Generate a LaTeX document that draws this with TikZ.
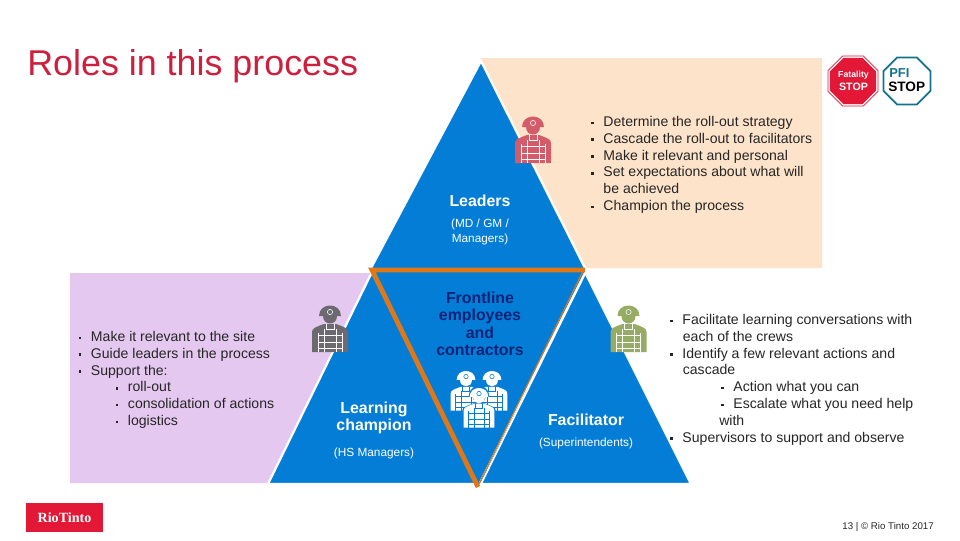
\documentclass[tikz,border=0pt]{standalone}
\usepackage{fontspec}
\setmainfont{Liberation Sans}
\usepackage{xcolor}
\usetikzlibrary{positioning,shapes.geometric,arrows.meta}
\definecolor{RoleBlue}{RGB}{4,125,214}
\definecolor{RoleOrange}{RGB}{224,120,24}
\definecolor{RoleNavy}{RGB}{10,35,120}
\definecolor{TintoRed}{RGB}{226,24,54}
\definecolor{TitleRed}{RGB}{205,32,62}
\definecolor{PeachBox}{RGB}{253,227,201}
\definecolor{LilacBox}{RGB}{229,200,240}
\definecolor{PfiTeal}{RGB}{20,115,140}
\definecolor{WorkerRed}{RGB}{212,92,104}
\definecolor{WorkerGrey}{RGB}{108,106,112}
\definecolor{WorkerGreen}{RGB}{150,172,100}
\newlength{\pxunit}
\setlength{\pxunit}{0.025cm}
\newcommand{\blt}{\makebox[12.2\pxunit][l]{\rule[1.6pt]{1.9pt}{1.9pt}}}
\newcommand{\sblt}{\hspace*{37\pxunit}\blt}
\tikzset{
  rolearea/.style={draw=white, line width=1.6pt, fill=RoleBlue, line join=miter},
  listtext/.style={align=left, anchor=north west, inner sep=0pt, text=black!85,
    font=\fontsize{10pt}{11.95pt}\selectfont},
  rolename/.style={align=center, text=white, inner sep=0pt,
    font=\fontsize{11.3pt}{12.4pt}\selectfont\bfseries},
  rolesub/.style={align=center, text=white, inner sep=0pt,
    font=\fontsize{8.4pt}{10.4pt}\selectfont},
  stopsign/.style={regular polygon, regular polygon sides=8, inner sep=0pt},
  signtext/.style={inner sep=0pt, font=\bfseries},
  pics/worker/.style 2 args={code={
    % body
    \fill[#1] (-18,23) -- (-18,3) .. controls (-18,-1) and (-14,-2) .. (-6,-5)
      -- (6,-5) .. controls (14,-2) and (18,-1) .. (18,3) -- (18,23) -- cycle;
    % helmet and face
    \fill[#1] (-11,-13) .. controls (-11,-27) and (11,-27) .. (11,-13) -- (7,-13)
      .. controls (7,-3) and (-7,-3) .. (-7,-13) -- cycle;
    \draw[#2, line width=0.4pt] (0,-17) circle (2.6);
    \draw[#2, line width=0.5pt] (-4,-5) -- (-4,0) -- (4,0) -- (4,-5);
    \draw[#2, line width=0.5pt] (-12,4) -- (-12,23) (12,4) -- (12,23)
      (-6,0) -- (-6,23) (6,0) -- (6,23)
      (-12,6) -- (12,6) (-12,13) -- (12,13) (-12,19) -- (12,19);
  }},
}
\begin{document}
\begin{tikzpicture}[x=0.025cm,y=-0.025cm]
  \useasboundingbox (0,0) rectangle (960,540);
  \fill[white] (0,0) rectangle (960,540);

  % coloured panels behind the triangles
  \fill[PeachBox] (480,58) -- (822,58) -- (822,268) -- (583,268) -- cycle;
  \fill[LilacBox] (70,273) -- (372,273) -- (268,483) -- (70,483) -- cycle;

  % three outer triangles and the middle one
  \draw[rolearea] (481,61) -- (586,270) -- (370,270) -- cycle;
  \draw[rolearea] (372,272) -- (478,484) -- (268,484) -- cycle;
  \draw[rolearea] (585,272) -- (691,484) -- (478,484) -- cycle;
  \fill[RoleBlue] (372,270) -- (585,270) -- (478,484) -- cycle;

  % outline of the middle triangle
  \draw[white, line width=1.2pt] (586,272) -- (481,484);
  \draw[RoleOrange, line width=0.8pt] (583,271) -- (478,486);
  \draw[RoleOrange, line width=3.4pt, line join=miter] (585,270) -- (372,270) -- (478,487);

  % workers
  \pic at (533,140) {worker={WorkerRed}{white}};
  \pic at (330,329) {worker={WorkerGrey}{white}};
  \pic at (628.5,329) {worker={WorkerGreen}{white}};
  \pic[scale=0.85] at (466,391) {worker={white}{RoleBlue}};
  \pic[scale=0.85] at (492,391) {worker={white}{RoleBlue}};
  \pic[scale=0.93] at (479,408) {worker={RoleBlue}{RoleBlue}};
  \pic[scale=0.85] at (479,408) {worker={white}{RoleBlue}};

  % title
  \node[anchor=west, inner sep=0pt, text=TitleRed, font=\fontsize{25.5pt}{30pt}\selectfont] (title) at (27,66) {Roles in this process};

  % role labels
  \node[rolename] (leaders) at (480,201) {Leaders};
  \node[rolesub] (leaderssub) at (480,232) {(MD / GM /\\Managers)};
  \node[rolename, text=RoleNavy] (frontline) at (480,324) {Frontline\\employees\\and\\contractors};
  \node[rolename] (champion) at (374,418) {Learning\\champion};
  \node[rolesub] (championsub) at (374,453) {(HS Managers)};
  \node[rolename] (facilitator) at (586,420) {Facilitator};
  \node[rolesub] (facilitatorsub) at (586,443) {(Superintendents)};

  % lists
  \node[listtext] (leaderslist) at (591,116) {%
    \blt Determine the roll-out strategy\\
    \blt Cascade the roll-out to facilitators\\
    \blt Make it relevant and personal\\
    \blt Set expectations about what will\\
    \hspace*{12.2\pxunit}be achieved\\
    \blt Champion the process};
  \node[listtext] (championlist) at (78.5,331) {%
    \blt Make it relevant to the site\\
    \blt Guide leaders in the process\\
    \blt Support the:\\
    \sblt roll-out\\
    \sblt consolidation of actions\\
    \sblt logistics};
  \node[listtext] (facilitatorlist) at (670,314) {%
    \blt Facilitate learning conversations with\\
    \hspace*{12.6\pxunit}each of the crews\\
    \blt Identify a few relevant actions and\\
    \hspace*{12.6\pxunit}cascade\\
    \hspace*{51\pxunit}\blt Action what you can\\
    \hspace*{51\pxunit}\blt Escalate what you need help\\
    \hspace*{49\pxunit}with\\
    \blt Supervisors to support and observe};

  % stop signs
  \node[stopsign, draw=TintoRed, fill=white, line width=0.5pt, minimum size=54\pxunit] (fatalityrim) at (853,81) {};
  \node[stopsign, fill=TintoRed, minimum size=50\pxunit] (fatality) at (853,81) {};
  \node[signtext, text=white, font=\fontsize{6.2pt}{7pt}\selectfont\bfseries] (fatalitytext) at (853.5,75) {Fatality};
  \node[signtext, text=white, font=\fontsize{7.6pt}{8pt}\selectfont\bfseries] (fatalitystop) at (853.5,86.5) {STOP};
  \node[stopsign, draw=PfiTeal, fill=white, line width=1.3pt, minimum size=51\pxunit] (pfi) at (907,81) {};
  \node[signtext, anchor=west, text=PfiTeal, font=\fontsize{9.2pt}{10pt}\selectfont\bfseries] (pfitext) at (889,73.5) {PFI};
  \node[signtext, anchor=west, font=\fontsize{9.7pt}{10pt}\selectfont\bfseries] (pfistop) at (888,87) {STOP};

  % footer
  \node[anchor=center, fill=TintoRed, minimum width=77\pxunit, minimum height=29\pxunit, inner sep=0pt,
    text=white, font=\fontsize{10pt}{10pt}\bfseries\fontspec{Liberation Serif}] (logo) at (64.5,517.5) {RioTinto};
  \node[anchor=east, inner sep=0pt, text=black!85, font=\fontsize{6.9pt}{8pt}\selectfont] (footer) at (934,527) {13 | © Rio Tinto 2017};
\end{tikzpicture}
\end{document}
